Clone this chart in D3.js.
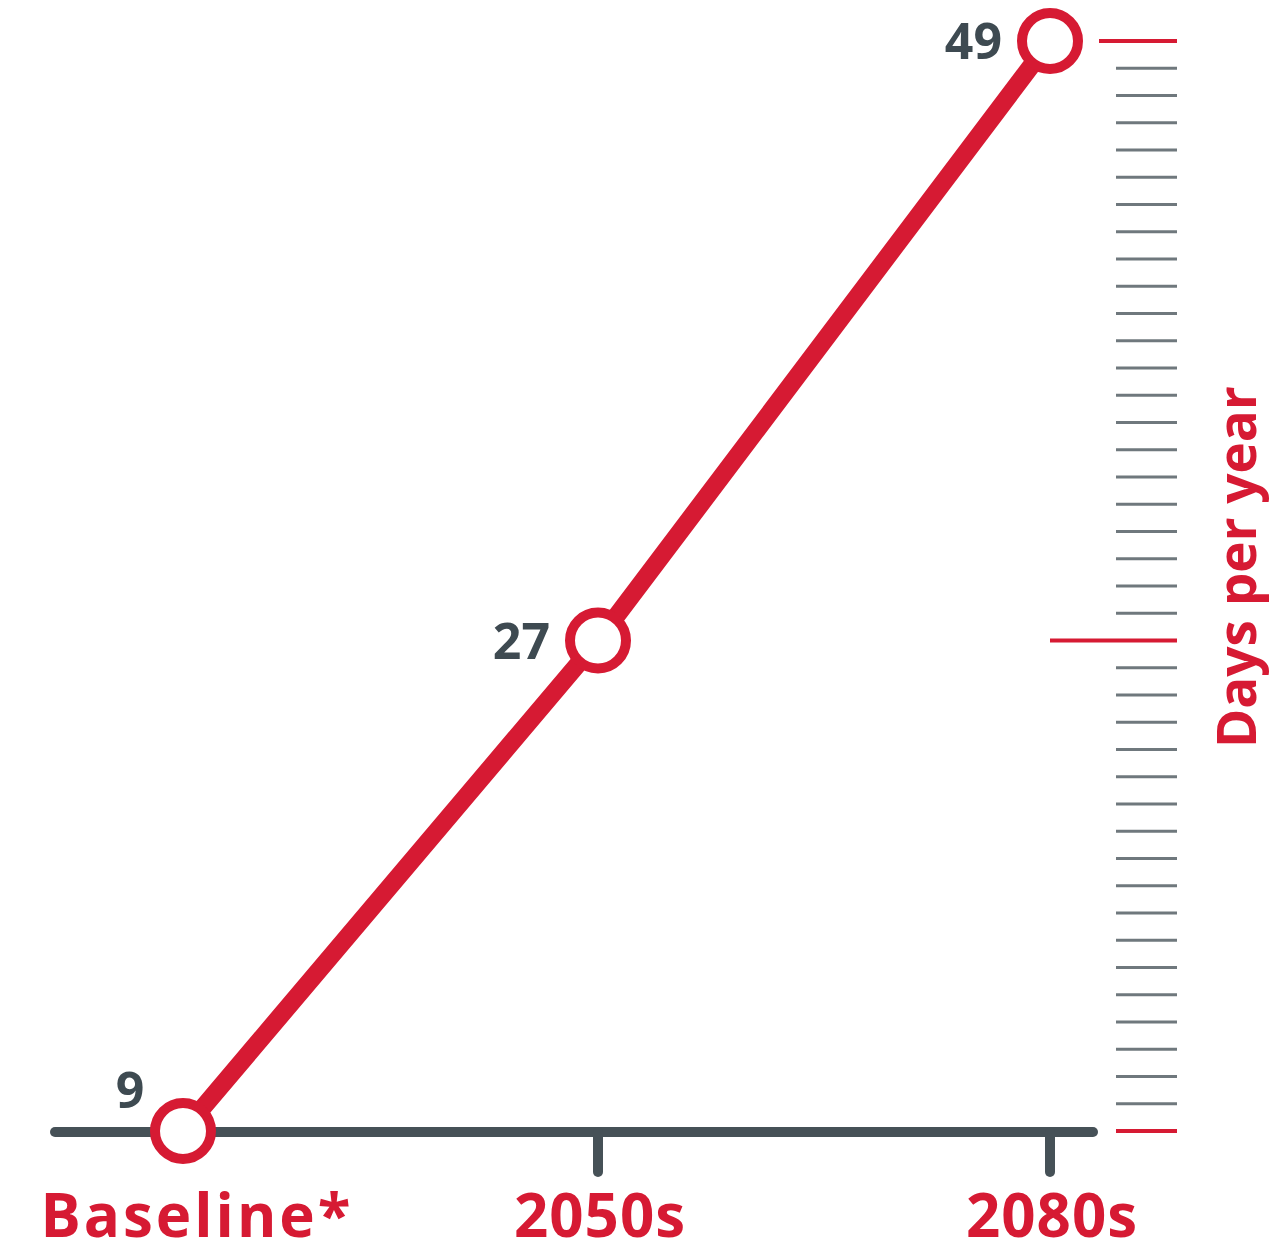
<!DOCTYPE html>
<html>
<head>
<meta charset="utf-8">
<script src="https://cdn.jsdelivr.net/npm/d3@7"></script>
<style>
  body { margin: 0; background: #fff; }
  text { font-family: "Open Sans", sans-serif; font-weight: 700; }
</style>
</head>
<body>
<div class="chart"></div>
<script>
var periods = ["Baseline*", "2050s", "2080s"],
    days = [9, 27, 49],
    dayTicks = d3.range(9, 50),
    redTicks = [9, 27, 49];

var width = 1286,
    height = 1254,
    red = "#d61a33",
    slate = "#465157";

var svg = d3.select("div.chart").append("svg")
    .attr("width", width)
    .attr("height", height);

var x = d3.scaleLinear()
    .domain([0, 1, 2])
    .range([183, 598, 1050]);

var y = d3.scaleLinear()
    .domain([9, 49])
    .range([1131, 41]);

// right hand day scale
svg.append("g")
    .attr("class", "scale")
    .selectAll("line")
    .data(dayTicks)
    .enter().append("line")
    .attr("x1", function(d) { return d == 27 ? 1050 : d == 49 ? 1099 : 1116; })
    .attr("x2", 1177)
    .attr("y1", function(d) { return y(d); })
    .attr("y2", function(d) { return y(d); })
    .attr("stroke", function(d) { return redTicks.indexOf(d) >= 0 ? red : "#6f787d"; })
    .attr("stroke-width", function(d) { return redTicks.indexOf(d) >= 0 ? 4 : 3; });

svg.append("text")
    .attr("transform", "translate(1256," + 567 + ") rotate(-90)")
    .style("text-anchor", "middle")
    .style("font-size", "53px")
    .attr("fill", red)
    .text("Days per year");

// bottom axis
svg.append("line")
    .attr("x1", 55)
    .attr("x2", 1093)
    .attr("y1", 1132)
    .attr("y2", 1132)
    .attr("stroke", slate)
    .attr("stroke-width", 10)
    .attr("stroke-linecap", "round");

svg.append("g")
    .selectAll("line")
    .data([1, 2])
    .enter().append("line")
    .attr("x1", function(d) { return x(d); })
    .attr("x2", function(d) { return x(d); })
    .attr("y1", 1132)
    .attr("y2", 1172)
    .attr("stroke", slate)
    .attr("stroke-width", 10)
    .attr("stroke-linecap", "round");

svg.append("g")
    .selectAll("text")
    .data(periods)
    .enter().append("text")
    .attr("x", function(d, i) { return x(i) + (i == 0 ? 14 : 2); })
    .attr("y", 1237)
    .style("text-anchor", "middle")
    .style("font-size", "60px")
    .style("letter-spacing", function(d, i) { return i == 0 ? "3px" : "1px"; })
    .attr("fill", red)
    .text(function(d) { return d; });

// the line
var line = d3.line()
    .x(function(d, i) { return x(i); })
    .y(function(d) { return y(d); });

svg.append("path")
    .datum(days)
    .attr("d", line)
    .attr("fill", "none")
    .attr("stroke", red)
    .attr("stroke-width", 18);

svg.append("g")
    .selectAll("circle")
    .data(days)
    .enter().append("circle")
    .attr("cx", function(d, i) { return x(i); })
    .attr("cy", function(d) { return y(d); })
    .attr("r", 28)
    .attr("fill", "#fff")
    .attr("stroke", red)
    .attr("stroke-width", 10);

svg.append("g")
    .selectAll("text")
    .data(days)
    .enter().append("text")
    .attr("x", function(d, i) { return i == 0 ? x(i) - 53 : x(i) - 48; })
    .attr("y", function(d, i) { return i == 0 ? y(d) - 23 : y(d) + 18; })
    .style("text-anchor", function(d, i) { return i == 0 ? "middle" : "end"; })
    .style("font-size", "50px")
    .attr("fill", "#3e4a51")
    .text(function(d) { return d; });
</script>
</body>
</html>
